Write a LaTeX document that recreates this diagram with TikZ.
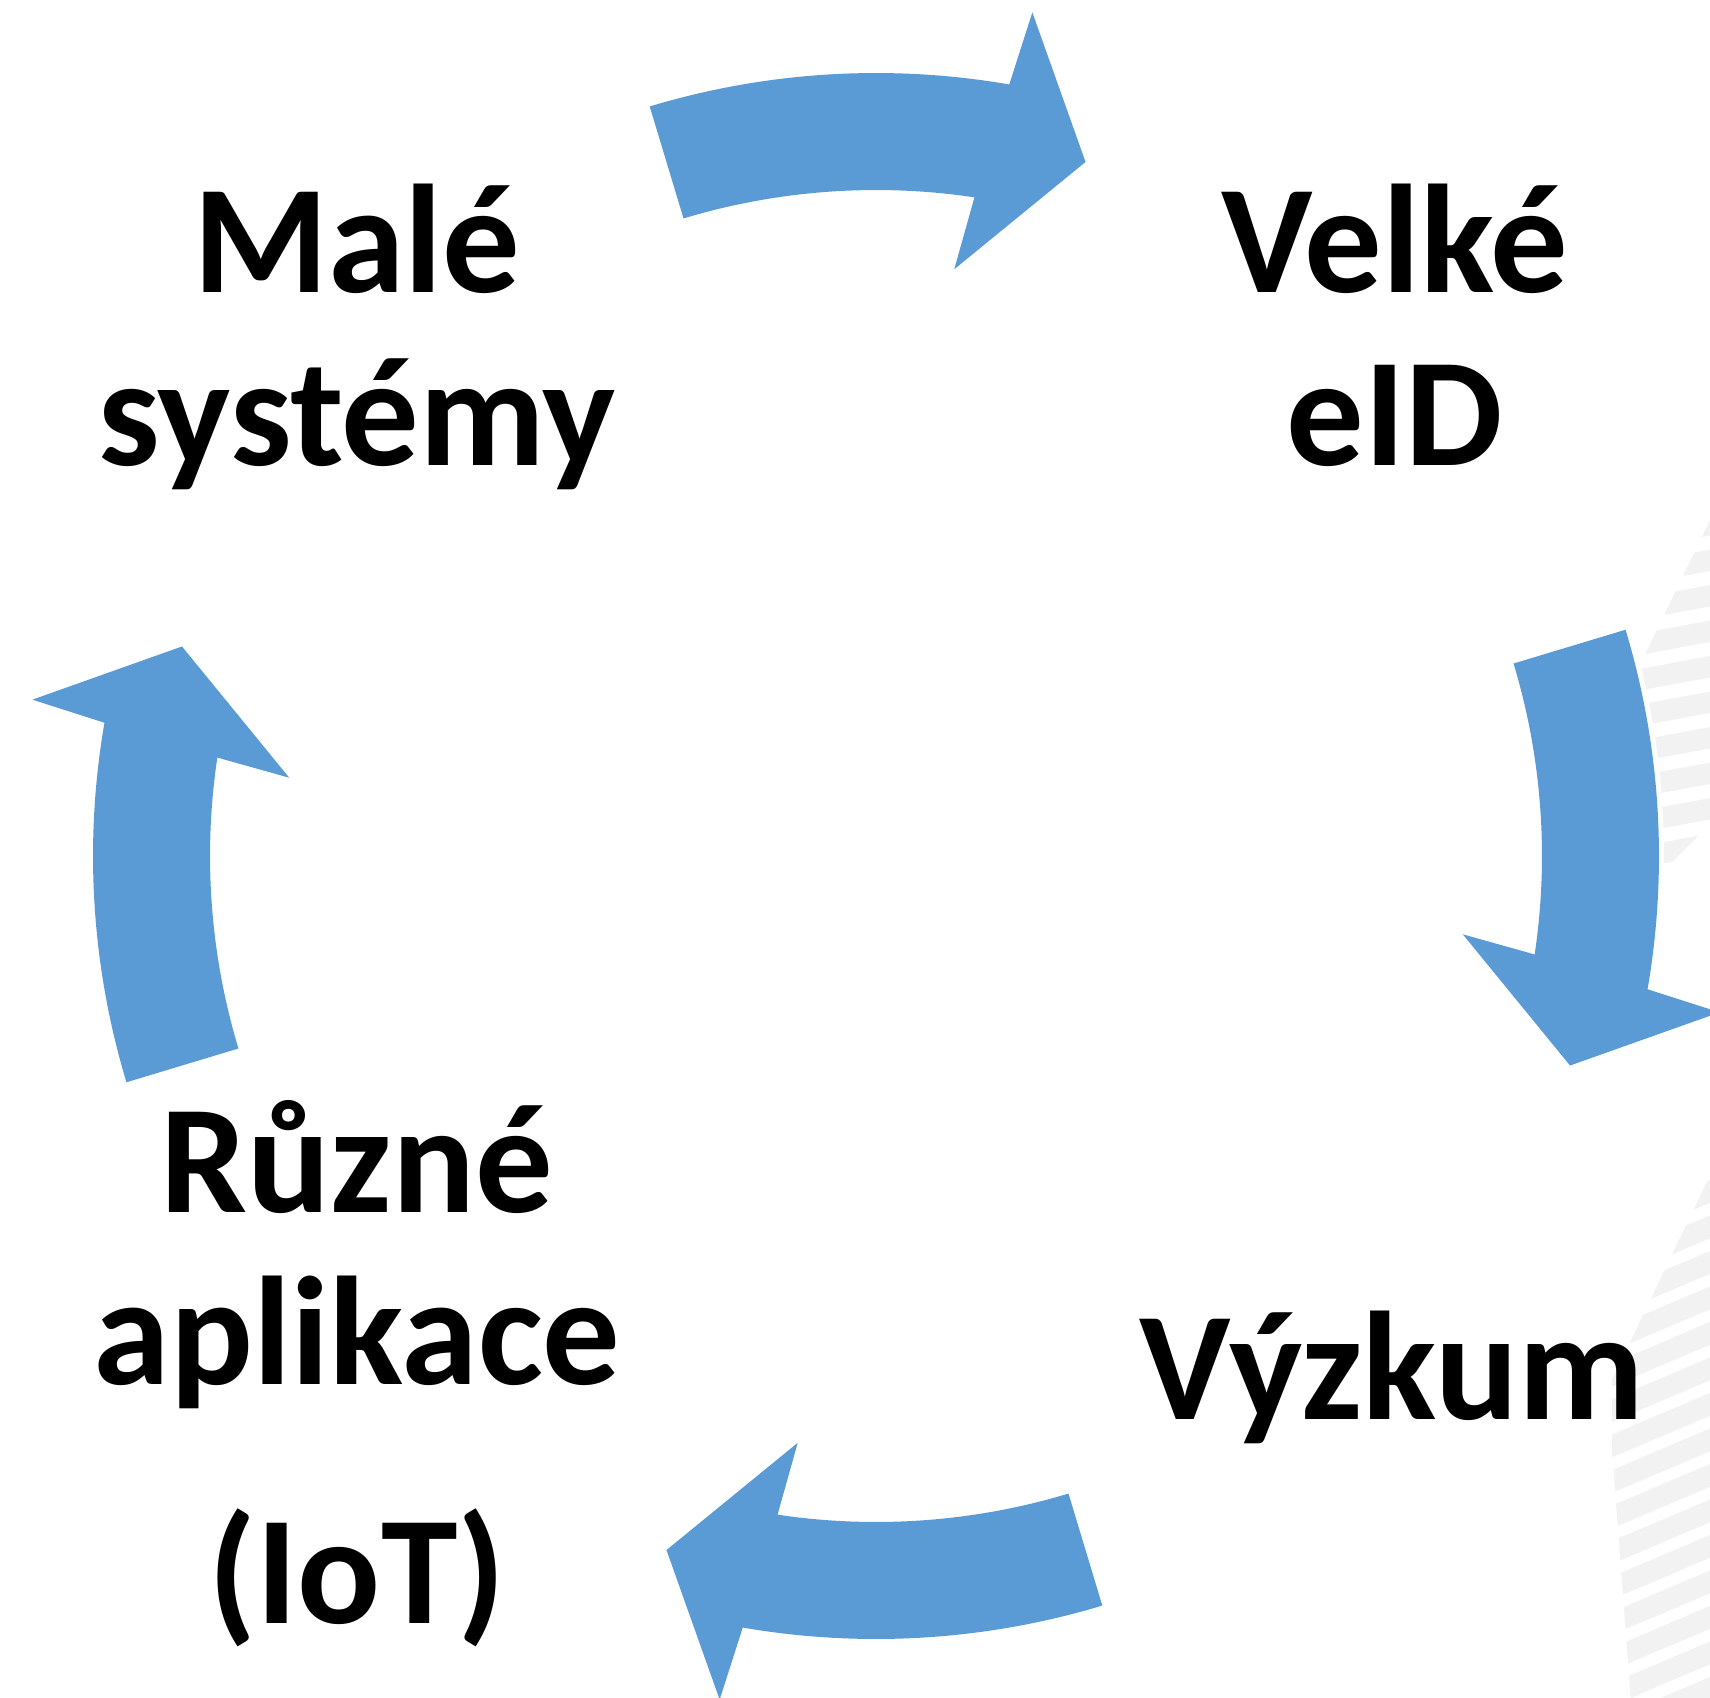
\documentclass[tikz,border=0pt]{standalone}
\usepackage{fontspec}
\setmainfont{Carlito}

\definecolor{cycleblue}{HTML}{5B9BD5}
\definecolor{stripegray}{HTML}{F2F2F2}

\tikzset{
    cyclearrow/.style={fill=cycleblue, preaction={draw=white, line width=0.1cm}},
    stripe/.style={draw=stripegray, line width=0.21cm},
    stagetext/.style={font=\fontsize{44}{49}\selectfont\bfseries, align=center, anchor=base, inner sep=0pt}
}

\begin{document}
\begin{tikzpicture}
        \path[use as bounding box, fill=white] (-8.76,-8.41) rectangle (8.34,8.56);

        \begin{scope}
            \clip (8.34,3.36) -- (7.64,1.91) -- (7.44,1.56) -- (7.44,-0.58) -- (8.34,0.32) -- cycle;
            \foreach \k in {-7,...,5}
                \draw[stripe] (7.3,{1.70+0.355*\k}) -- ++(10.5:1.2);
        \end{scope}
        \begin{scope}
            \clip (8.34,-3.19) -- (7.36,-5.24) -- (7.36,-5.94) -- (7.56,-8.6) -- (8.34,-8.6) -- cycle;
            \foreach \k in {-7,...,9}
                \draw[stripe] (7.3,{-6.28+0.355*\k}) -- ++(23:1.2);
        \end{scope}

        \fill[cyclearrow] (106.8:7.83) arc[start angle=106.8, end angle=80.2, radius=7.83] -- (79.5:8.58) -- (73.2:7.25) -- (82.4:5.92) -- (81.5:6.66) arc[start angle=81.5, end angle=106.8, radius=6.66] -- cycle;
        \fill[cyclearrow, rotate=-90] (106.8:7.83) arc[start angle=106.8, end angle=80.2, radius=7.83] -- (79.5:8.58) -- (73.2:7.25) -- (82.4:5.92) -- (81.5:6.66) arc[start angle=81.5, end angle=106.8, radius=6.66] -- cycle;
        \fill[cyclearrow, rotate=-180] (106.8:7.83) arc[start angle=106.8, end angle=80.2, radius=7.83] -- (79.5:8.58) -- (73.2:7.25) -- (82.4:5.92) -- (81.5:6.66) arc[start angle=81.5, end angle=106.8, radius=6.66] -- cycle;
        \fill[cyclearrow, rotate=-270] (106.8:7.83) arc[start angle=106.8, end angle=80.2, radius=7.83] -- (79.5:8.58) -- (73.2:7.25) -- (82.4:5.92) -- (81.5:6.66) arc[start angle=81.5, end angle=106.8, radius=6.66] -- cycle;

        \node[stagetext] (male) at (-5.19,3.91) {Malé\\systémy};
        \node[stagetext] (velke) at ([xshift=10.38cm]male.base) {Velké\\eID};
        \node[stagetext] (ruzne) at (-5.19,-7.67) {Různé\\aplikace\\[0.66cm](IoT)};
        \node[stagetext] (vyzkum) at (5.16,-5.63) {Výzkum};

    \end{tikzpicture}
\end{document}
